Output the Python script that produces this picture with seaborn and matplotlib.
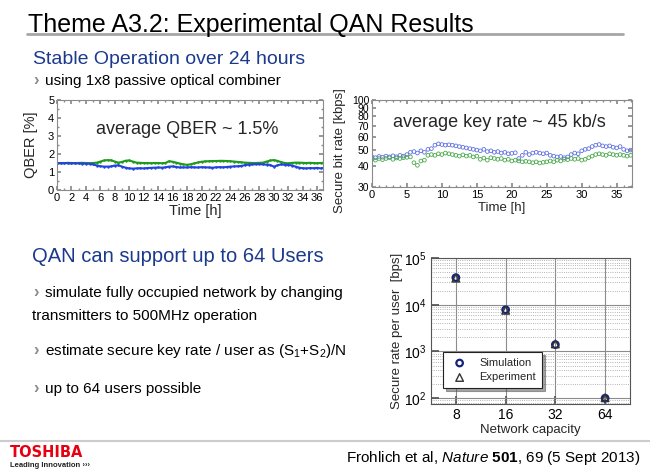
import numpy as np
import pandas as pd
import matplotlib.pyplot as plt
import seaborn as sns
from matplotlib.lines import Line2D
from matplotlib.ticker import MultipleLocator, NullLocator

# --- data ---
# QBER over time (t = 0 .. 37 h, every 0.5 h)
qber_time = np.arange(0, 37.5, 0.5)
qber_green = [1.48, 1.50, 1.49, 1.51, 1.50, 1.49, 1.50, 1.51, 1.50, 1.49, 1.50,
              1.52, 1.58, 1.64, 1.66, 1.65, 1.58, 1.52,
              1.56, 1.63, 1.64, 1.58,
              1.52, 1.51, 1.50, 1.50, 1.49, 1.50, 1.50, 1.49, 1.50,
              1.60, 1.57, 1.52,
              1.47, 1.42, 1.40, 1.43, 1.48,
              1.53, 1.57, 1.59, 1.60, 1.61, 1.61, 1.62, 1.62, 1.61, 1.60, 1.58, 1.56, 1.54, 1.52,
              1.51, 1.50, 1.50, 1.51, 1.52,
              1.58, 1.64, 1.66, 1.62, 1.55,
              1.50, 1.48, 1.51, 1.52, 1.52, 1.51, 1.50, 1.51, 1.50, 1.49, 1.50, 1.51]
qber_blue = [1.48, 1.49, 1.50, 1.49, 1.48, 1.49, 1.48, 1.47, 1.46, 1.46,
             1.42, 1.36, 1.32, 1.30, 1.30, 1.31,
             1.36, 1.37, 1.30, 1.24,
             1.20, 1.19, 1.20, 1.21, 1.20, 1.22, 1.23, 1.24, 1.25, 1.24, 1.26,
             1.30, 1.31, 1.28,
             1.25, 1.26, 1.25, 1.27, 1.26, 1.25, 1.27, 1.26, 1.25, 1.24, 1.26, 1.27, 1.26, 1.28,
             1.30, 1.31, 1.32, 1.34,
             1.38, 1.41, 1.42, 1.43, 1.44, 1.42, 1.41, 1.39,
             1.30, 1.37, 1.42, 1.40,
             1.40, 1.36, 1.30, 1.24, 1.21, 1.20, 1.22, 1.21, 1.23, 1.20, 1.24]

# secure bit rate over time [kbps]
rate_time = np.arange(0, 37.5, 0.5)
rate_blue = [45.5, 45.0, 45.8, 45.3, 46.0, 45.5, 46.2, 45.6, 46.5, 46.0,
             47.0, 48.5, 49.0, 48.0, 49.5, 48.5, 50.5, 51.0,
             53.5, 54.5, 54.0, 53.5, 53.8, 53.5, 53.0,
             52.5, 52.0, 51.5, 51.0, 50.5, 50.0, 49.5, 50.5,
             49.0, 49.5, 48.5, 49.0, 48.0, 48.5, 47.5, 47.8, 48.2,
             44.5, 46.5, 48.5,
             47.0, 48.0, 48.5, 48.0, 47.5, 48.0, 46.5, 46.0,
             45.5, 45.8, 45.0, 45.5, 47.0, 48.0,
             47.5, 49.5, 50.5, 51.0, 52.5, 53.5, 54.0, 53.0, 52.5,
             53.0, 52.0, 51.5, 52.5, 50.5, 49.5, 50.0]
rate_green = [44.0, 43.5, 44.5, 43.8, 44.5, 45.0, 44.0, 44.8, 44.5, 45.0, 45.2,
              45.5, 42.0, 40.5, 43.0, 43.5,
              46.5, 47.0, 46.5, 47.5, 47.0, 48.0, 47.5,
              47.0, 46.5, 46.0, 46.8, 46.0, 46.5, 45.5, 46.0,
              44.0, 44.8, 43.5, 45.0, 44.5,
              44.0, 44.5, 43.5, 44.0, 43.0, 43.5, 43.0,
              42.5, 42.8, 42.5, 42.0, 42.5, 41.8, 42.2, 42.5, 43.0, 42.5,
              43.5, 43.0, 44.0, 43.8, 44.5, 44.0, 44.5,
              43.5, 44.0, 45.0, 46.0, 47.0,
              47.5, 47.0, 46.5, 47.5, 47.0, 46.5, 47.0, 46.5, 46.0, 46.5]

# secure rate per user vs network capacity [bps]
capacity = [8, 16, 32, 64]
rate_simulation = [3.8e4, 7.8e3, 1.40e3, 100]
rate_experiment = [3.7e4, 7.6e3, 1.45e3, 102]

W, H = 650, 473


def fx(x):
    return x / W


def fy(y):
    return 1 - y / H


sns.set_theme(style="ticks")
plt.rcParams["font.family"] = ["Liberation Sans", "DejaVu Sans"]
plt.rcParams["mathtext.fontset"] = "custom"
plt.rcParams["mathtext.rm"] = "Liberation Sans"
plt.rcParams["mathtext.it"] = "Liberation Sans:italic"
plt.rcParams["mathtext.bf"] = "Liberation Sans:bold"
plt.rcParams["mathtext.default"] = "regular"

fig = plt.figure(figsize=(6.5, 4.73), dpi=100)
fig.patch.set_facecolor("white")

navy = "#1c3a8c"
frame_gray = "#8a8a8a"


def matlab_box(ax):
    for sp in ax.spines.values():
        sp.set_color(frame_gray)
        sp.set_linewidth(0.8)
    ax.tick_params(which="both", direction="in", top=True, right=True,
                   colors=frame_gray, labelcolor="black", labelsize=8, pad=2)
    ax.tick_params(which="major", length=3)
    ax.tick_params(which="minor", length=1.5)


# --- QBER panel ---
ax1 = fig.add_axes([fx(57), fy(190), fx(323) - fx(57), fy(100) - fy(190)])
sns.lineplot(x=qber_time, y=qber_green, color="#1f9a1f", estimator=None, sort=False,
             marker=".", markersize=3.5, markeredgewidth=0, linewidth=1.5, ax=ax1)
sns.lineplot(x=qber_time, y=qber_blue, color="#2244dd", estimator=None, sort=False,
             marker=".", markersize=3.5, markeredgewidth=0, linewidth=1.5, ax=ax1)
ax1.set_xlim(0, 36.8)
ax1.set_ylim(0, 5)
ax1.xaxis.set_major_locator(MultipleLocator(2))
ax1.xaxis.set_minor_locator(MultipleLocator(1))
ax1.yaxis.set_major_locator(MultipleLocator(1))
ax1.yaxis.set_minor_locator(MultipleLocator(0.5))
matlab_box(ax1)
ax1.set_xlabel("Time [h]", fontsize=10.5, labelpad=0)
ax1.set_ylabel("QBER [%]", fontsize=10.5, labelpad=0)
ax1.xaxis.set_label_coords(0.52, -0.155)
ax1.yaxis.set_label_coords(-0.07, 0.5)
ax1.text(0.49, 0.67, "average QBER ~ 1.5%", transform=ax1.transAxes,
         ha="center", va="center", fontsize=13)

# --- secure bit rate panel ---
ax2 = fig.add_axes([fx(372), fy(187), fx(632) - fx(372), fy(100) - fy(187)])
sns.scatterplot(x=rate_time, y=rate_blue, ax=ax2, marker="o", s=7,
                facecolor="none", edgecolor="#6272e2", linewidth=0.6)
sns.scatterplot(x=rate_time, y=rate_green, ax=ax2, marker="o", s=7,
                facecolor="none", edgecolor="#4caa4c", linewidth=0.6)
ax2.set_yscale("log")
ax2.set_ylim(30, 100)
ax2.set_xlim(0, 37.2)
ax2.set_yticks([30, 40, 50, 60, 70, 80, 90, 100])
ax2.set_yticklabels(["30", "40", "50", "60", "70", "80", "90", "100"])
ax2.yaxis.set_minor_locator(NullLocator())
ax2.xaxis.set_major_locator(MultipleLocator(5))
ax2.xaxis.set_minor_locator(MultipleLocator(1))
matlab_box(ax2)
ax2.tick_params(axis="y", labelsize=7.5)
ax2.set_xlabel("Time [h]", fontsize=9.5, labelpad=0)
ax2.set_ylabel("Secure bit rate [kbps]", fontsize=9.5, labelpad=0)
ax2.xaxis.set_label_coords(0.5, -0.17)
ax2.yaxis.set_label_coords(-0.1, 0.42)
ax2.text(0.49, 0.74, "average key rate ~ 45 kb/s", transform=ax2.transAxes,
         ha="center", va="center", fontsize=13)

# --- network capacity panel ---
ax3 = fig.add_axes([fx(431), fy(404), fx(630) - fx(431), fy(258) - fy(404)])
df_c = pd.DataFrame({
    "capacity": capacity * 2,
    "rate": rate_simulation + rate_experiment,
    "kind": ["Simulation"] * 4 + ["Experiment"] * 4,
})
ax3.set_xscale("log", base=2)
ax3.set_yscale("log")
ax3.grid(True, which="major", color="#8c8c8c", linewidth=0.8)
ax3.grid(True, which="minor", axis="y", color="#9a9a9a", linestyle=":", linewidth=0.6)
sns.scatterplot(data=df_c[df_c.kind == "Simulation"], x="capacity", y="rate",
                marker="o", s=22, facecolor="none", edgecolor="#16237a",
                linewidth=1.6, label="Simulation", ax=ax3, zorder=3)
sns.scatterplot(data=df_c[df_c.kind == "Experiment"], x="capacity", y="rate",
                marker="^", s=30, facecolor="none", edgecolor="#333333",
                linewidth=1.0, label="Experiment", ax=ax3, zorder=4)
ax3.set_xlim(2 ** 2.5, 2 ** 6.5)
ax3.set_ylim(75, 1e5)
ax3.set_xticks(capacity)
ax3.set_xticklabels([str(c) for c in capacity])
ax3.xaxis.set_minor_locator(NullLocator())
for sp in ax3.spines.values():
    sp.set_color("#555555")
    sp.set_linewidth(0.8)
ax3.tick_params(which="both", direction="in", labelsize=10, pad=3, colors="#555555",
                labelcolor="black")
ax3.tick_params(which="minor", length=0)
ax3.set_axisbelow(True)
ax3.set_xlabel("Network capacity", fontsize=9.5, labelpad=0)
ax3.set_ylabel("Secure rate per user  [bps]", fontsize=9.5, labelpad=0)
ax3.xaxis.set_label_coords(0.5, -0.135)
ax3.yaxis.set_label_coords(-0.14, 0.5)
leg = ax3.legend(loc="lower left", bbox_to_anchor=(0.06, 0.11), borderaxespad=0,
                 shadow=True, fancybox=False, framealpha=1, edgecolor="#222222",
                 fontsize=8, handletextpad=0.8, borderpad=0.5, labelspacing=0.4)
leg.get_frame().set_linewidth(0.8)

# --- slide text ---
fig.text(fx(28), fy(32), "Theme A3.2: Experimental QAN Results", fontsize=18,
         va="baseline", ha="left", color="black")
fig.add_artist(Line2D([fx(27), fx(623)], [fy(34.5), fy(34.5)], color="#a6a6a6", lw=2))
fig.text(fx(33), fy(64), "Stable Operation over 24 hours", fontsize=14,
         va="baseline", color=navy)

bullet_gray = "#8c8c8c"


def bullet_line(x, y, text):
    fig.text(fx(x), fy(y), "\u203a", fontsize=12, fontweight="bold",
             va="baseline", color=bullet_gray)
    fig.text(fx(x + 12), fy(y), text, fontsize=11, va="baseline", color="black")


bullet_line(33, 85, "using 1x8 passive optical combiner")

fig.text(fx(32), fy(262), "QAN can support up to 64 Users", fontsize=14.5,
         va="baseline", color=navy)
bullet_line(33, 297, "simulate fully occupied network by changing")
fig.text(fx(32), fy(320), "transmitters to 500MHz operation", fontsize=11,
         va="baseline", color="black")
bullet_line(33, 355, r"estimate secure key rate / user as (S$_1$+S$_2$)/N")
bullet_line(33, 393, "up to 64 users possible")

# footer
fig.add_artist(Line2D([0, 1], [fy(441), fy(441)], color="#cccccc", lw=1.5))
fig.text(fx(10), fy(457), "TOSHIBA", fontsize=10.5, fontweight="bold",
         color="#e60012", va="baseline", family=["DejaVu Sans"])
fig.text(fx(10), fy(467), "Leading Innovation \u203a\u203a\u203a", fontsize=5.5,
         fontweight="bold", color="#222222", va="baseline")
fig.text(fx(640), fy(462), r"Frohlich et al, $\it{Nature}$ $\bf{501}$, 69 (5 Sept 2013)",
         fontsize=11, ha="right", va="baseline", color="black")

fig.savefig("out.png", dpi=100)
